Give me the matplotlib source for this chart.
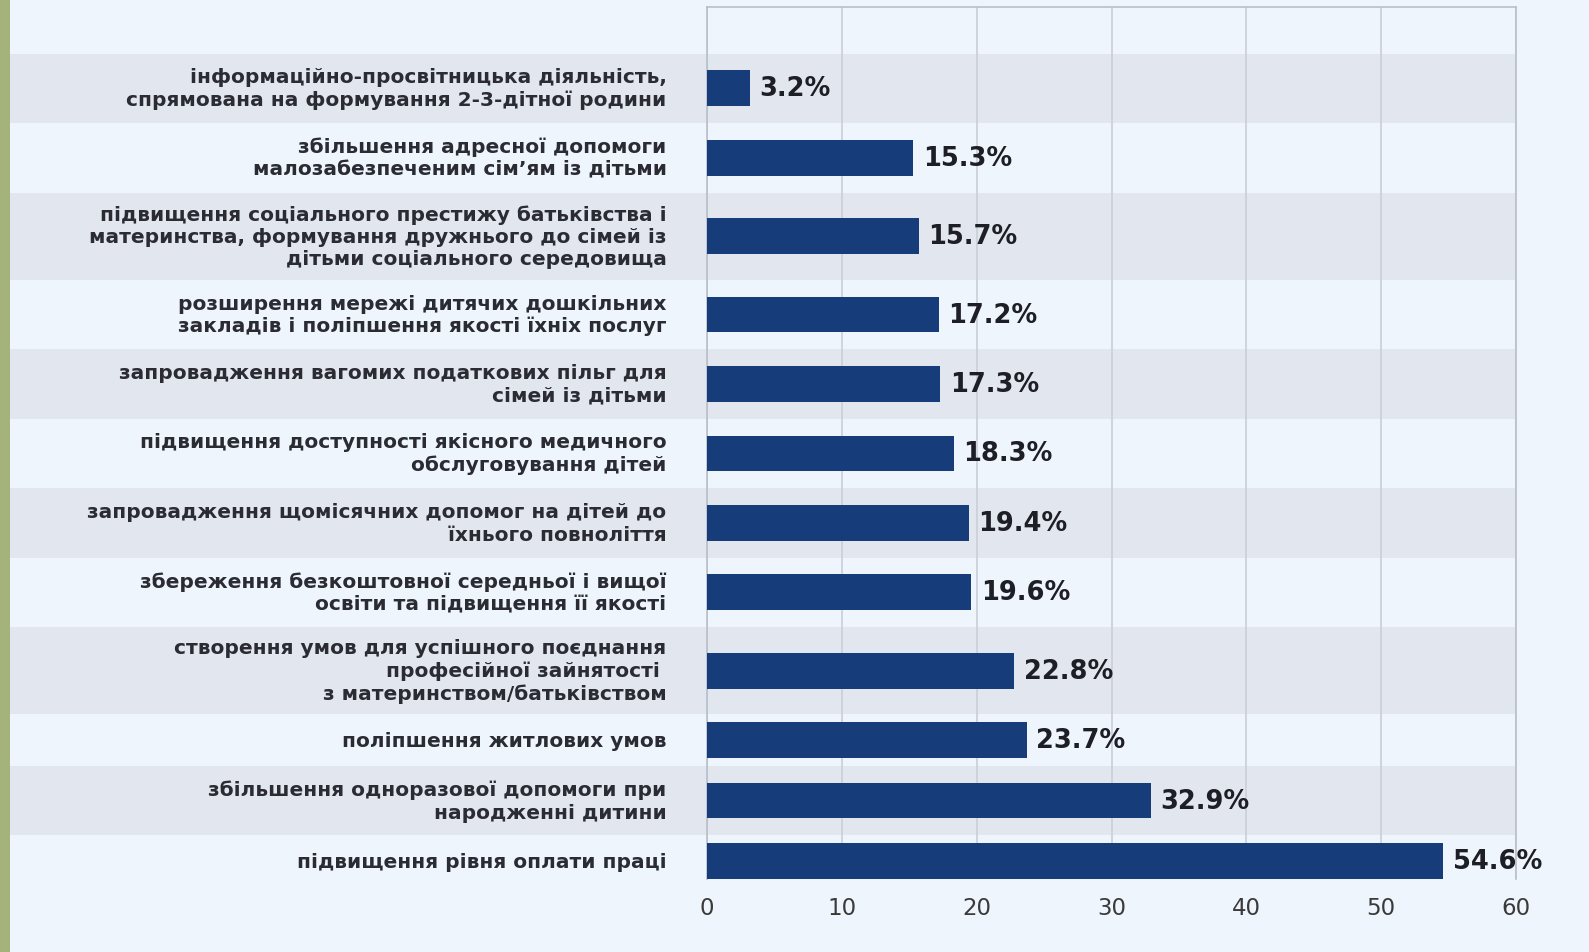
import matplotlib
matplotlib.use("Agg")
import matplotlib.pyplot as plt
from matplotlib.patches import Rectangle

categories = [
    "інформаційно-просвітницька діяльність,\nспрямована на формування 2-3-дітної родини",
    "збільшення адресної допомоги\nмалозабезпеченим сім’ям із дітьми",
    "підвищення соціального престижу батьківства і\nматеринства, формування дружнього до сімей із\nдітьми соціального середовища",
    "розширення мережі дитячих дошкільних\nзакладів і поліпшення якості їхніх послуг",
    "запровадження вагомих податкових пільг для\nсімей із дітьми",
    "підвищення доступності якісного медичного\nобслуговування дітей",
    "запровадження щомісячних допомог на дітей до\nїхнього повноліття",
    "збереження безкоштовної середньої і вищої\nосвіти та підвищення її якості",
    "створення умов для успішного поєднання\nпрофесійної зайнятості \nз материнством/батьківством",
    "поліпшення житлових умов",
    "збільшення одноразової допомоги при\nнародженні дитини",
    "підвищення рівня оплати праці",
]
values = [3.2, 15.3, 15.7, 17.2, 17.3, 18.3, 19.4, 19.6, 22.8, 23.7, 32.9, 54.6]
xticks = [0, 10, 20, 30, 40, 50, 60]

BG = "#eef5fc"
BAND = "#e2e7ef"
BAR = "#163d79"
TXT = "#1e1e26"
LAB = "#2b2b34"

fig = plt.figure(figsize=(15.89, 9.53), dpi=100, facecolor=BG)
ax = fig.add_axes([707/1589, 1-880/953, (1516-707)/1589, (880-8)/953])
ax.set_facecolor(BG)

# row layout derived from number of label lines
heights = [52 + 18 * c.count("\n") for c in categories]
top_pad = 47
y = top_pad
centers, bounds = [], []
for h in heights:
    bounds.append((y, y + h))
    centers.append(y + h / 2)
    y += h

bar_h = 36
ax.set_ylim(centers[-1] + bar_h / 2, 0)
ax.set_xlim(0, 60)

left_frac = (10 - 707) / (1516 - 707)
for i, (a, b) in enumerate(bounds):
    if i % 2 == 0:
        r = Rectangle((left_frac, a), 1 - left_frac, b - a,
                      transform=ax.get_yaxis_transform(), facecolor=BAND,
                      edgecolor="none", clip_on=False, zorder=0)
        ax.add_patch(r)

ax.set_axisbelow(True)
ax.grid(axis="x", color="#c9ced8", linewidth=1.2)
ax.barh(centers, values, height=bar_h, color=BAR, zorder=3)

for c, v in zip(centers, values):
    ax.text(v + 0.7, c, f"{v}%", va="center", ha="left", fontsize=18.5,
            fontweight="bold", color=TXT, family="DejaVu Sans", zorder=4)

for c, lab in zip(centers, categories):
    ax.text(-3.0, c, lab, va="center", ha="right", fontsize=14.5,
            fontweight="bold", color=LAB, family="DejaVu Sans",
            linespacing=1.22, transform=ax.transData, clip_on=False)

ax.set_yticks([])
ax.set_xticks(xticks)
ax.set_xticklabels([str(t) for t in xticks], fontsize=16.5, color="#3a3a3a")
ax.tick_params(axis="x", length=0, pad=12)
ax.spines["bottom"].set_visible(False)
for s in ["left", "right", "top"]:
    ax.spines[s].set_color("#b9bfc9")
    ax.spines[s].set_linewidth(1.2)

# green strip on the left edge
fig.patches.append(Rectangle((0, 0), 10/1589, 1, transform=fig.transFigure,
                             facecolor="#a4b37b", edgecolor="none", zorder=5))

fig.savefig("out.png", dpi=100, facecolor=BG)
